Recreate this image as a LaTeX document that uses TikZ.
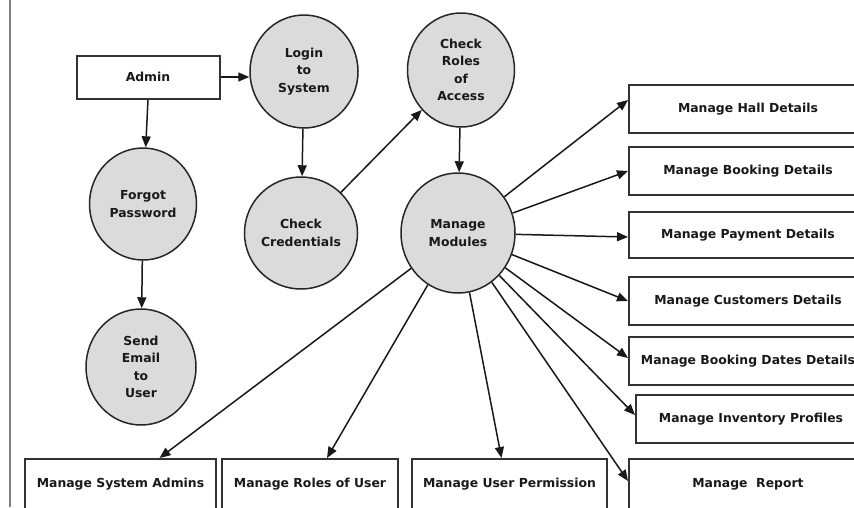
\documentclass[tikz,border=0pt]{standalone}
\usepackage{fontspec}
\setmainfont{DejaVu Sans}
\usetikzlibrary{arrows.meta,shapes.geometric,calc}
\begin{document}
\begin{tikzpicture}[x=1pt,y=-1pt,
 proc/.style={ellipse, draw=black!85, line width=1.5pt, fill=black!14, inner sep=0pt, align=center, text=black!90, font=\bfseries\fontsize{12.4}{17.5}\selectfont},
 ent/.style={rectangle, draw=black!80, line width=2pt, fill=white, inner sep=0pt, align=center, text=black!90, font=\bfseries\fontsize{12.4}{15}\selectfont},
 flow/.style={draw=black!90, line width=1.5pt, -{Triangle[length=11pt,width=9pt]}}]
\useasboundingbox (0,0) rectangle (854,507);
\clip (0,0) rectangle (854,507);
\fill[white] (0,0) rectangle (854,507);
\draw[black!50, line width=2pt] (10,0) -- (10,507);

\node[ent, minimum width=143pt, minimum height=43pt] (admin) at (148,77) {Admin};
\node[proc, minimum width=108pt, minimum height=113pt] (login) at (304,71.5) {Login\\to\\System};
\node[proc, minimum width=107pt, minimum height=112pt] (forgot) at (143,204) {Forgot\\Password};
\node[proc, minimum width=104pt, minimum height=112pt] (cc) at (301,233) {Check\\Credentials};
\node[proc, minimum width=107pt, minimum height=114pt] (cr) at (461,70) {Check\\Roles\\of\\Access};
\node[proc, minimum width=114pt, minimum height=120pt] (mm) at (458,233) {Manage\\Modules};
\node[proc, minimum width=110pt, minimum height=116pt] (email) at (141,367) {Send\\Email\\to\\User};

\node[ent, minimum width=238pt, minimum height=48pt] (hall) at (748,109) {Manage Hall Details};
\node[ent, minimum width=238pt, minimum height=48pt] (booking) at (748,171) {Manage Booking Details};
\node[ent, minimum width=238pt, minimum height=46pt] (payment) at (748,235) {Manage Payment Details};
\node[ent, minimum width=238pt, minimum height=48pt] (customers) at (748,301) {Manage Customers Details};
\node[ent, minimum width=238pt, minimum height=48pt] (dates) at (748,361) {Manage Booking Dates Details};
\node[ent, minimum width=230pt, minimum height=48pt] (inventory) at (751,419) {Manage Inventory Profiles};
\node[ent, minimum width=238pt, minimum height=50pt] (report) at (748,484) {Manage\ \ Report};
\node[ent, minimum width=191pt, minimum height=50pt] (sa) at (120.5,484) {Manage System Admins};
\node[ent, minimum width=176pt, minimum height=50pt] (roles) at (310,484) {Manage Roles of User};
\node[ent, minimum width=195pt, minimum height=50pt] (perm) at (509.5,484) {Manage User Permission};

\draw[flow] (admin.east) -- (admin.east -| login.west);
\draw[flow] (admin.south) -- (forgot);
\draw[flow] (forgot) -- (email);
\draw[flow] (login) -- (cc);
\draw[flow] (cc) -- (cr);
\draw[flow] (cr) -- (mm);
\draw[flow] (mm) -- ($(hall.west)+(0,-9)$);
\draw[flow] (mm) -- (booking.west);
\draw[flow] (mm) -- ($(payment.west)+(0,2)$);
\draw[flow] (mm) -- (customers.west);
\draw[flow] (mm) -- ($(dates.west)+(0,-3)$);
\draw[flow] (mm) -- ($(inventory.west)+(0,-4)$);
\draw[flow] (mm) -- ($(report.west)+(0,-3)$);
\draw[flow] (mm) -- ($(perm.north)+(-8,0)$);
\draw[flow] (mm) -- ($(roles.north)+(17,0)$);
\draw[flow] (mm) -- ($(sa.north)+(39,0)$);
\end{tikzpicture}
\end{document}
